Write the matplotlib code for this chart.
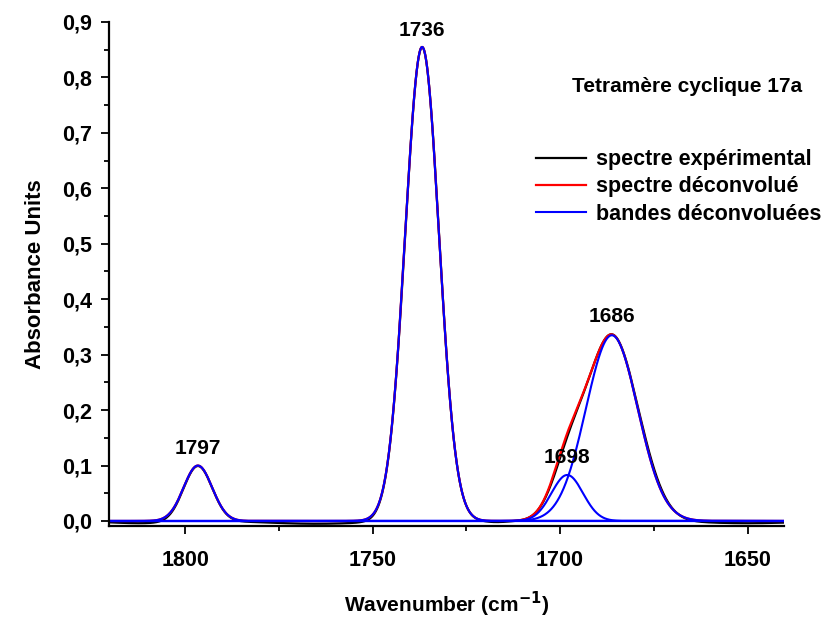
import numpy as np
import matplotlib
matplotlib.use("Agg")
import matplotlib.pyplot as plt
from matplotlib.ticker import MultipleLocator, FuncFormatter

plt.rcParams['font.family'] = ['Liberation Sans', 'DejaVu Sans']
plt.rcParams['font.weight'] = 'bold'

# deconvoluted bands (Gaussian): centre (cm-1), height (AU), sigma (cm-1)
band_centres = [1796.6, 1736.8, 1698.1, 1686.2]
band_heights = [0.100, 0.855, 0.083, 0.335]
band_sigmas = [3.8, 4.5, 4.2, 6.9]

# small residual components seen in the experimental trace only
resid_centres = [1812.0, 1765.0, 1717.0, 1699.0, 1676.0, 1650.0]
resid_heights = [-0.004, -0.005, -0.002, -0.007, 0.006, -0.004]
resid_sigmas = [8.0, 12.0, 3.0, 3.0, 4.0, 12.0]

peak_labels = ["1797", "1736", "1698", "1686"]
label_pos = [(1796.6, 0.113), (1736.8, 0.868), (1698.1, 0.097), (1686.2, 0.352)]

wn = np.linspace(1640, 1820, 3000)


def gauss(x, c, h, s):
    return h * np.exp(-(x - c) ** 2 / (2 * s ** 2))


bands = [gauss(wn, c, h, s) for c, h, s in zip(band_centres, band_heights, band_sigmas)]
fit = np.sum(bands, axis=0)
expt = fit + np.sum([gauss(wn, c, h, s) for c, h, s in
                     zip(resid_centres, resid_heights, resid_sigmas)], axis=0)

fig = plt.figure(figsize=(8.29, 6.21), dpi=100)
ax = fig.add_axes([0.1315, 0.153, 0.8142, 0.8116])

ax.plot(wn, expt, color='black', lw=1.6, label='spectre expérimental')
ax.plot(wn, fit, color='#ff0000', lw=1.6, label='spectre déconvolué')
for i, b in enumerate(bands):
    ax.plot(wn, b, color='#0000ff', lw=1.5,
            label='bandes déconvoluées' if i == 0 else None)
ax.axhline(0, color='#0000ff', lw=1.6)

for txt, (x, y) in zip(peak_labels, label_pos):
    ax.text(x, y, txt, ha='center', va='bottom', fontsize=15, fontweight='bold')

ax.set_xlim(1820.3, 1640.3)
ax.set_ylim(-0.009, 0.9)

ax.xaxis.set_major_locator(MultipleLocator(50))
ax.xaxis.set_minor_locator(MultipleLocator(25))
ax.yaxis.set_major_locator(MultipleLocator(0.1))
ax.yaxis.set_minor_locator(MultipleLocator(0.05))
ax.yaxis.set_major_formatter(FuncFormatter(lambda v, p: f"{v:.1f}".replace('.', ',').replace('-0,0', '0,0')))
ax.tick_params(which='major', direction='out', length=6, width=1.3, labelsize=15.5)
ax.tick_params(which='minor', direction='out', length=3.5, width=1.3)
ax.tick_params(axis='x', pad=11)
ax.tick_params(axis='y', pad=6)

for side in ['top', 'right']:
    ax.spines[side].set_visible(False)
for side in ['left', 'bottom']:
    ax.spines[side].set_linewidth(1.6)

ax.set_xlabel('Wavenumber (cm$^{\\mathbf{-1}}$)', fontsize=15, fontweight='bold', labelpad=14)
ax.set_ylabel('Absorbance Units', fontsize=16, fontweight='bold', labelpad=12)

ax.text(0.856, 0.871, 'Tetramère cyclique 17a', transform=ax.transAxes,
        ha='center', va='center', fontsize=15, fontweight='bold')
ax.legend(loc='upper left', bbox_to_anchor=(0.62, 0.765), frameon=False,
          fontsize=15.5, handlelength=2.3, handletextpad=0.5, labelspacing=0.3,
          borderaxespad=0)

fig.savefig('out.png', dpi=100)
